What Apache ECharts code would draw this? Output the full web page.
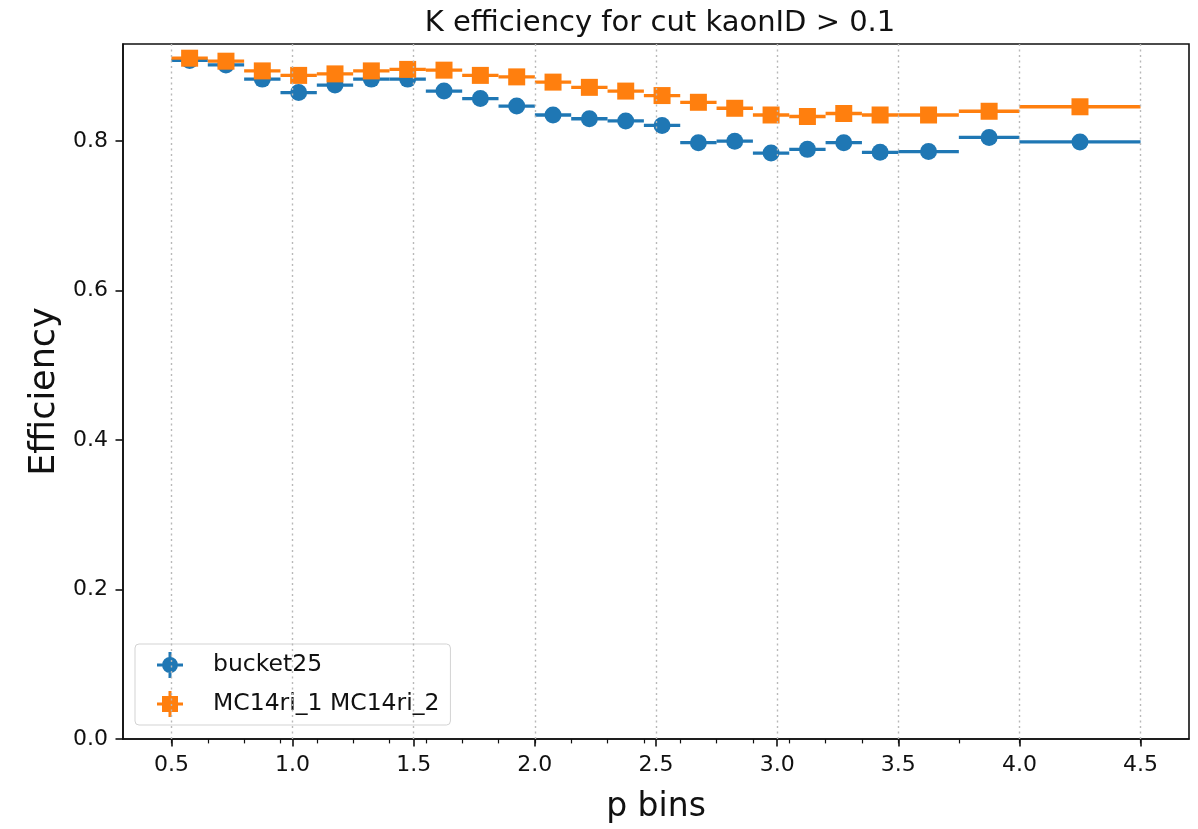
<!DOCTYPE html>
<html>
<head>
<meta charset="utf-8">
<title>K efficiency</title>
<script src="https://cdn.jsdelivr.net/npm/echarts@6.0.0/dist/echarts.min.js"></script>
<style>
html, body { margin: 0; padding: 0; background: #fff; }
#main { width: 1198px; height: 829px; }
</style>
</head>
<body>
<div id="main"></div>
<script>
// bin edges of p (GeV)
var binEdges = [0.5, 0.65, 0.8, 0.95, 1.1, 1.25, 1.4, 1.55, 1.7, 1.85, 2.0, 2.15, 2.3, 2.45,
	2.6, 2.75, 2.9, 3.05, 3.2, 3.35, 3.5, 3.75, 4.0, 4.5];
// efficiency per bin
var bucket25 = [0.908, 0.902, 0.883, 0.865, 0.875, 0.883, 0.883, 0.867, 0.857, 0.847, 0.835, 0.830,
	0.827, 0.821, 0.798, 0.800, 0.784, 0.789, 0.798, 0.785, 0.786, 0.805, 0.799];
var mc14ri = [0.911, 0.907, 0.894, 0.888, 0.890, 0.894, 0.896, 0.895, 0.888, 0.886, 0.879, 0.872,
	0.867, 0.861, 0.852, 0.844, 0.835, 0.833, 0.837, 0.835, 0.835, 0.840, 0.846];
var xTicks = [0.5, 1.0, 1.5, 2.0, 2.5, 3.0, 3.5, 4.0, 4.5];
var yTicks = [0.0, 0.2, 0.4, 0.6, 0.8];

var blue = '#1f77b4', orange = '#ff7f0e';
var font = 'DejaVu Sans';

// [lo, hi, centre, value]
function toRows(vals) {
	var rows = [];
	for (var i = 0; i < vals.length; i++) {
		var lo = binEdges[i], hi = binEdges[i + 1];
		rows.push([lo, hi, (lo + hi) / 2, vals[i]]);
	}
	return rows;
}

function binRenderer(color, marker) {
	return function (params, api) {
		var v = api.value(3);
		var a = api.coord([api.value(0), v]);
		var b = api.coord([api.value(1), v]);
		var c = api.coord([api.value(2), v]);
		var kids = [{
			type: 'line',
			shape: { x1: a[0], y1: a[1], x2: b[0], y2: b[1] },
			style: { stroke: color, lineWidth: 3.3 }
		}];
		if (marker == 'circle') {
			kids.push({ type: 'circle', shape: { cx: c[0], cy: c[1], r: 8.5 }, style: { fill: color } });
		} else {
			kids.push({ type: 'rect', shape: { x: c[0] - 8.5, y: c[1] - 8.5, width: 17, height: 17 }, style: { fill: color } });
		}
		return { type: 'group', children: kids };
	};
}

// legend handles: marker with its error bars (bars kept outside the marker so nothing overlaps)
var bars = 'M-1.5,-13 h3 v5.2 h-3 Z M-1.5,7.8 h3 v5.2 h-3 Z M-13,-1.5 h5.2 v3 h-5.2 Z M7.8,-1.5 h5.2 v3 h-5.2 Z ';
var circlePath = 'M8,0 L7.391,3.061 L5.657,5.657 L3.061,7.391 L0,8 L-3.061,7.391 L-5.657,5.657 L-7.391,3.061 ' +
	'L-8,0 L-7.391,-3.061 L-5.657,-5.657 L-3.061,-7.391 L0,-8 L3.061,-7.391 L5.657,-5.657 L7.391,-3.061 Z';
var circleIcon = 'path://' + bars + circlePath;
var squareIcon = 'path://' + bars + 'M-8,-8 h16 v16 h-16 Z';

var myChart = echarts.init(document.getElementById('main'));
var option = {
	backgroundColor: '#fff',
	animation: false,
	title: {
		text: 'K efficiency for cut kaonID > 0.1',
		left: 655,
		textAlign: 'center',
		top: 4,
		textStyle: { fontFamily: font, fontSize: 29, fontWeight: 'normal', color: '#111' }
	},
	grid: {
		left: 123, right: 9, top: 44, bottom: 87,
		show: true, borderColor: '#111', borderWidth: 1.6, backgroundColor: 'transparent'
	},
	legend: {
		orient: 'vertical',
		left: 135, top: 644,
		padding: [8, 11, 8, 22],
		itemWidth: 26, itemHeight: 26, itemGap: 13,
		itemStyle: { borderWidth: 0 },
		backgroundColor: 'rgba(255,255,255,0.8)',
		borderColor: '#d3d3d3', borderWidth: 1, borderRadius: 4,
		textStyle: { fontFamily: font, fontSize: 23.5, color: '#111', padding: [0, 0, 0, 25] },
		data: [
			{ name: 'bucket25', icon: circleIcon },
			{ name: 'MC14ri_1 MC14ri_2', icon: squareIcon }
		]
	},
	xAxis: [{
		type: 'value', min: 0.3, max: 4.7,
		name: 'p bins', nameLocation: 'middle', nameGap: 52,
		nameTextStyle: { fontFamily: font, fontSize: 33, color: '#111' },
		axisLine: { show: true, onZero: false, lineStyle: { color: '#111', width: 1.6 } },
		axisTick: { show: true, inside: false, length: 7.5, customValues: xTicks, lineStyle: { color: '#111', width: 1.6 } },
		axisLabel: {
			customValues: xTicks, margin: 15,
			fontFamily: font, fontSize: 22, color: '#111',
			formatter: function (v) { return v.toFixed(1); }
		},
		splitLine: { show: false }
	}, {
		// minor ticks on the bin edges
		type: 'value', min: 0.3, max: 4.7, position: 'bottom', gridIndex: 0,
		axisLine: { show: false },
		axisTick: { show: true, length: 4.4, customValues: binEdges, lineStyle: { color: '#111', width: 1.2 } },
		axisLabel: { show: false },
		splitLine: { show: false }
	}],
	yAxis: {
		type: 'value', min: 0, max: 0.93,
		name: 'Efficiency', nameLocation: 'middle', nameGap: 56,
		nameTextStyle: { fontFamily: font, fontSize: 35, color: '#111' },
		axisLine: { show: true, onZero: false, lineStyle: { color: '#111', width: 1.6 } },
		axisTick: { show: true, length: 7.5, customValues: yTicks, lineStyle: { color: '#111', width: 1.6 } },
		axisLabel: {
			customValues: yTicks, margin: 15,
			fontFamily: font, fontSize: 22, color: '#111',
			formatter: function (v) { return v.toFixed(1); }
		},
		splitLine: { show: false }
	},
	series: [{
		// dotted vertical grid
		type: 'line', xAxisIndex: 0, data: [], z: 1, silent: true,
		markLine: {
			silent: true, symbol: ['none', 'none'], animation: false,
			label: { show: false },
			lineStyle: { type: [2, 3.5], color: '#b8b8b8', width: 1.4 },
			data: xTicks.map(function (v) { return { xAxis: v }; })
		}
	}, {
		name: 'bucket25', type: 'custom', xAxisIndex: 0, z: 3,
		itemStyle: { color: blue },
		encode: { x: [0, 1, 2], y: 3 },
		renderItem: binRenderer(blue, 'circle'),
		data: toRows(bucket25)
	}, {
		name: 'MC14ri_1 MC14ri_2', type: 'custom', xAxisIndex: 0, z: 4,
		itemStyle: { color: orange },
		encode: { x: [0, 1, 2], y: 3 },
		renderItem: binRenderer(orange, 'square'),
		data: toRows(mc14ri)
	}]
};
myChart.setOption(option);
</script>
</body>
</html>
